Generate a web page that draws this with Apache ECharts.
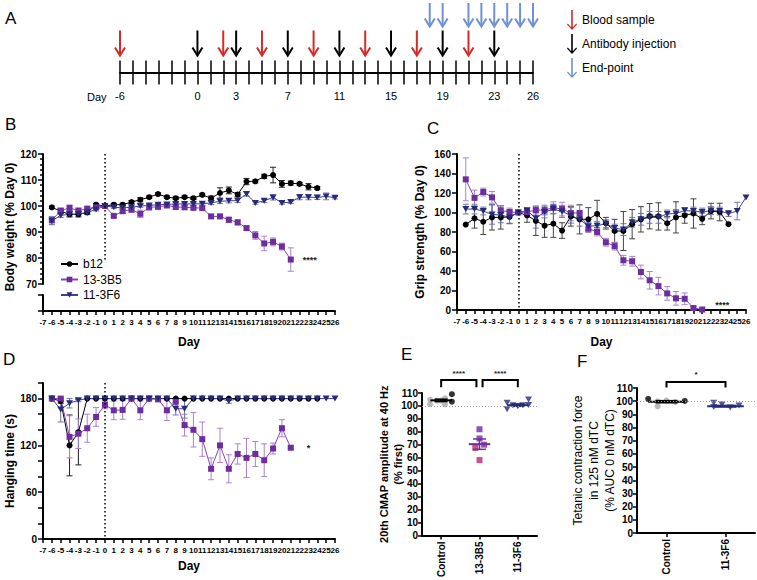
<!DOCTYPE html>
<html><head><meta charset="utf-8">
<script src="https://cdn.jsdelivr.net/npm/echarts@6/dist/echarts.min.js"></script>
<style>html,body{margin:0;padding:0;background:#fff}#c{width:757px;height:580px}</style>
</head><body><div id="c"></div>
<script>
// ---------------- DATA ----------------
const timelineTickLabels = [-6, 0, 3, 7, 11, 15, 19, 23, 26];
const bloodDays = [-6, 2, 5, 9, 13, 17, 21];
const injectionDays = [0, 3, 7, 11, 15, 19, 23];
const endpointDays = [18, 19, 21, 22, 23, 24, 25, 26];

const days = [-6,-5,-4,-3,-2,-1,0,1,2,3,4,5,6,7,8,9,10,11,12,13,14,15,16,17,18,19,20,21,22,23,24,25,26];
const groups = ['b12', '13-3B5', '11-3F6'];

// B: body weight (% day 0)
const weightB12 = [99.5,98.0,96.8,96.8,97.5,100.5,100, 100.5,100.5,101.5,102.4,103.4,104.6,103.4, 103.0,103.4,103.0,104.3,103.0,105.0,106.0, 104.4,109.4,109.5,111.4,111.9,108.5,108.8, 108.5,107.4,106.9,null,null];
const weightB12Err = [0.5,1,1,1,0.8,0.5,0, 0.5,0.5,0.6,0.8,0.5,0.5,0.5, 0.5,0.5,0.5,0.6,0.8,2,1.3, 0.8,1.2,0.6,0.8,3,1.3,0.8, 0.6,1.2,0.6,null,null];
const weight3B5 = [94.5,98.2,99.3,98.2,99.0,99.5,100, 96.2,98.0,98.6,97.0,99.5,99.7,100.2, 99.6,99.5,99.3,99.2,96.0,96.0,94.7, 93.7,91.5,88.7,85.6,86.2,84.4,79.4, null,null,null,null,null];
const weight3B5Err = [1.5,1,1,1,0.8,0.8,0, 0.6,0.8,1,1.4,1,1,0.8, 0.8,0.8,0.8,0.8,0.8,0.8,1, 1,0.8,1.5,2.8,1.5,1.3,4.5, null,null,null,null,null];
const weight3F6 = [94.3,96.4,96.8,96.9,97.5,98.7,100, 99.5,99.3,99.5,100,100.2,100.5,100.6, 100.8,100.8,100.8,100.9,101.2,101.8,102.0, 102.1,104.6,101.2,102.0,103.3,101.2,101.5, 103.4,103.4,103.3,103.7,103.2];
const weight3F6Err = [1.5,0.8,0.8,0.8,0.6,0.6,0, 0.5,0.5,0.5,0.5,0.5,0.5,0.5, 0.5,0.5,0.5,0.5,0.6,0.8,0.8, 0.8,0.8,0.5,0.6,1,0.5,0.5, 1,1,0.8,1.3,0.5];

// C: grip strength (% day 0)
const gripB12 = [87.6,94,90.5,95,95,95.5,100, 97,91.5,86.5,88.5,81.5,96,93, 93,98.5,89,81,81,88,93, 96.2,96,89,95,97,99,93.5, 101.5,100.5,88,null,null];
const gripB12Err = [0,10,13,13,12,7,0, 7,15,12,14,8,10,15, 12,14,6,12,20,15,13, 13,14,7,16,8,15,6, 8,9,0,null,null];
const grip3B5 = [134,115,121,115.5,102,100.5,100, 100.5,102.5,102.5,105,103.5,99.5,99.5, 83.5,80,69.5,65.5,51,50,39, 30.5,24.5,17,12,11.5,2,0.5, null,null,null,null,null];
const grip3B5Err = [22,8,4,6,5,4,0, 3,4,5,6,7,8,8, 4,4,4,4,5,5,7, 9,9,7,7,6,1.5,0, null,null,null,null,null];
const grip3F6 = [103.5,103.5,101.5,98,97.5,95,100, 102,94,100.5,103.5,101,97,93, 86,86.5,88.5,84,82.5,90,93, 95,95,98.5,99,102,101.5,100.5, 102,101.5,99,101.5,115.5];
const grip3F6Err = [5,5,4,10,8,6,0, 3,10,6,5,6,8,7, 4,4,4,4,6,5,6, 6,6,4,4,3,4,4, 4,4,3,9,0];

// D: hanging time (s)
const hangB12 = [180,177,120,137,180,180,180, 180,180,180,180,180,180,180, 180,180,180,180,180,180,180, 180,180,180,180,180,180,180, 180,180,180,null,null];
const hangB12Err = [0,3,39,42,0,0,0, 0,0,0,0,0,0,0, 0,0,0,0,0,0,0, 0,0,0,0,0,0,0, 0,0,0,null,null];
const hang3B5 = [180,180,131,135,142,156.5,172, 165,165.5,180,165,180,179,165, 176,146,140,128,90,120,90, 109,104,109,101,116,142,117, null,null,null,null,null];
const hang3B5Err = [0,0,27,19,18,12,5, 12,12,0,12,0,0,13, 0,14,22,22,14,22,18, 13,25,16,21,7,11,2, null,null,null,null,null];
const hang3F6 = [180,166,174,178,180,180,180, 180,180,180,180,180,180,180, 167,167,180,180,180,180,177, 180,180,180,180,180,180,180, 180,180,180,180,180];
const hang3F6Err = [0,16,6,2,0,0,0, 0,0,0,0,0,0,0, 8,12,0,0,0,0,3, 0,0,0,0,0,0,0, 0,0,0,0,0];

// E: 20th CMAP amplitude at 40 Hz (% first)
const eCategories = ['Control', '13-3B5', '11-3F6'];
const eControlGray = [101.3, 104.9, 104.1, 104.1, 101.3, 105.9];
const eControlGrayJitter = [-0.29, -0.29, -0.11, 0, 0.1, 0.1];
const eControlBlack = [109.1, 103.3];
const eControlBlackJitter = [0.28, 0.28];
const e3B5Purple = [82, 74.9, 70.1];
const e3B5PurpleJitter = [0, 0, 0.12];
const e3B5Magenta = [67.6, 58.2];
const e3B5MagentaJitter = [-0.11, 0];
const e3F6 = [102.5, 97.5, 100.5, 99.8, 100.5, 105.0, 100.8];
const e3F6Jitter = [-0.28, -0.28, -0.13, 0, 0.13, 0.28, 0.28];
const eMean = [104.3, 70.5, 100.6];
const eSem = [0.9, 4.0, 0.9];

// F: tetanic contraction force (% AUC 0 nM dTC)
const fCategories = ['Control', '11-3F6'];
const fControlBlack = [101.7, 100.2];
const fControlBlackJitter = [-0.31, 0.31];
const fControlGray = [96.1, 99.9, 100.4, 99.4];
const fControlGrayJitter = [-0.15, -0.15, 0, 0.15];
const f3F6 = [98.8, 95.5, 97.5, 95.3, 96.8];
const f3F6Jitter = [-0.2, -0.2, -0.06, 0.08, 0.23];
const fMean = [99.6, 96.2];
const fSem = [0.8, 0.6];

// ---------------- STYLE ----------------
const FF = "'Liberation Sans', Arial, sans-serif";
const BLACK = '#000000';
const PURPLE = '#6E2C9E', PURPLE_LINE = '#8048B5', PURPLE_ERR = '#A884CA';
const NAVY = '#272A78', NAVY_LINE = '#3D4196', NAVY_ERR = '#7174AE';
const MAGENTA = '#C2246B', GRAY = '#A9A9A9';
const RED = '#D62A27', BLUE = '#6E92D2';
const TRI_DOWN = 'path://M0,0L10,0L5,9Z';
const ARROW_ICON = 'path://M4.2,0L5.8,0L5.8,17.2L9.2,13.6L10,14.5L5,20L0,14.5L0.8,13.6L4.2,17.2Z';

const axLine = () => ({show: true, onZero: false, lineStyle: {color: BLACK, width: 2}});
const axTick = (len) => ({show: true, length: len, lineStyle: {color: BLACK, width: 1.5}});
const boldLbl = (size, extra) => Object.assign({color: BLACK, fontFamily: FF, fontWeight: 'bold', fontSize: size}, extra || {});
const noSplit = {show: false};

function dayAxis(gi, showName, nameGap) {
  return {gridIndex: gi, type: 'value', min: -7, max: 26, interval: 1, position: 'bottom',
    axisLine: axLine(), axisTick: axTick(4), splitLine: noSplit,
    axisLabel: boldLbl(8, {margin: 7, showMinLabel: true, showMaxLabel: true}),
    name: showName ? 'Day' : '', nameLocation: 'middle', nameGap: nameGap,
    nameTextStyle: boldLbl(12)};
}

function lineSeries(name, vals, color, lineColor, symbol, size, xi, yi, stars, starOpts) {
  const data = [];
  days.forEach((d, i) => { if (vals[i] != null) data.push([d, vals[i]]); });
  if (stars) {
    const last = data[data.length - 1];
    data[data.length - 1] = {value: last, label: Object.assign({show: true, formatter: stars, position: 'right',
      color: '#222', fontFamily: FF, fontSize: 9, fontWeight: 'bold'}, starOpts || {})};
  }
  return {type: 'line', name, xAxisIndex: xi, yAxisIndex: yi, data, symbol, symbolSize: size,
    showSymbol: true, itemStyle: {color}, lineStyle: {color: lineColor, width: 1}, z: 3,
    emphasis: {disabled: true}, animation: false};
}

function errBars(vals, errs, color, xi, yi) {
  const data = [];
  days.forEach((d, i) => { if (vals[i] != null && errs[i]) data.push([d, vals[i] - errs[i], vals[i] + errs[i]]); });
  return {type: 'custom', xAxisIndex: xi, yAxisIndex: yi, data, z: 1, silent: true, animation: false,
    encode: {x: 0, y: [1, 2]},
    renderItem: (p, api) => {
      const x = api.value(0);
      const a = api.coord([x, api.value(1)]), b = api.coord([x, api.value(2)]);
      const w = 3;
      return {type: 'group', children: [
        {type: 'line', shape: {x1: a[0], y1: a[1], x2: b[0], y2: b[1]}, style: {stroke: color, lineWidth: 1}},
        {type: 'line', shape: {x1: a[0] - w, y1: a[1], x2: a[0] + w, y2: a[1]}, style: {stroke: color, lineWidth: 1}},
        {type: 'line', shape: {x1: b[0] - w, y1: b[1], x2: b[0] + w, y2: b[1]}, style: {stroke: color, lineWidth: 1}}]};
    }};
}

function vDotted(top, bottom) {
  return {silent: true, symbol: ['none', 'none'], animation: false, label: {show: false},
    lineStyle: {color: BLACK, width: 1.5, type: [1.5, 2.5]},
    data: [[{coord: [0, top]}, {coord: [0, bottom]}]]};
}

function arrowSeries(name, list, color, topV, botV) {
  return {type: 'custom', name, xAxisIndex: 0, yAxisIndex: 0, itemStyle: {color}, animation: false, silent: true,
    data: list.map(d => [d, topV, botV]), encode: {x: 0, y: [1, 2]},
    renderItem: (p, api) => {
      const t = api.coord([api.value(0), api.value(1)]);
      const b = api.coord([api.value(0), api.value(2)]);
      return {type: 'group', children: [
        {type: 'line', shape: {x1: t[0], y1: t[1], x2: b[0], y2: b[1] - 1}, style: {stroke: color, lineWidth: 2}},
        {type: 'polyline', shape: {points: [[b[0] - 5, b[1] - 8], [b[0], b[1]], [b[0] + 5, b[1] - 8]]},
          style: {stroke: color, lineWidth: 2, fill: 'none'}}]};
    }};
}

function dots(vals, jitter, center, color, symbol, size, xi, yi, extra) {
  return Object.assign({type: 'scatter', xAxisIndex: xi, yAxisIndex: yi, symbol, symbolSize: size,
    itemStyle: {color}, data: vals.map((v, i) => [center + jitter[i], v]), z: 3, silent: true, animation: false}, extra || {});
}

function meanSem(means, sems, colors, xi, yi, half, refLine) {
  const s = {type: 'custom', xAxisIndex: xi, yAxisIndex: yi, z: 4, silent: true, animation: false,
    data: means.map((m, i) => [i + 0.5, m, sems[i], i]), encode: {x: 0, y: 1},
    renderItem: (p, api) => {
      const cx = api.value(0), m = api.value(1), se = api.value(2), col = colors[api.value(3)];
      const l = api.coord([cx - half, m]), r = api.coord([cx + half, m]);
      const lo = api.coord([cx, m - se]), hi = api.coord([cx, m + se]);
      const cw = (r[0] - l[0]) * 0.3;
      return {type: 'group', children: [
        {type: 'line', shape: {x1: l[0], y1: l[1], x2: r[0], y2: r[1]}, style: {stroke: col, lineWidth: 2}},
        {type: 'line', shape: {x1: lo[0], y1: lo[1], x2: hi[0], y2: hi[1]}, style: {stroke: col, lineWidth: 1.5}},
        {type: 'line', shape: {x1: lo[0] - cw, y1: lo[1], x2: lo[0] + cw, y2: lo[1]}, style: {stroke: col, lineWidth: 1.5}},
        {type: 'line', shape: {x1: hi[0] - cw, y1: hi[1], x2: hi[0] + cw, y2: hi[1]}, style: {stroke: col, lineWidth: 1.5}}]};
    }};
  if (refLine) s.markLine = {silent: true, symbol: ['none', 'none'], animation: false, label: {show: false},
    lineStyle: {color: '#999', width: 1, type: [1, 2]}, data: [{yAxis: 100}]};
  return s;
}

function brackets(list, xi, yi) {
  return {type: 'custom', xAxisIndex: xi, yAxisIndex: yi, z: 5, silent: true, animation: false, clip: false,
    data: list.map(b => [b[0], b[1], b[2], b[3]]), encode: {x: [0, 1], y: 2},
    renderItem: (p, api) => {
      const txt = list[p.dataIndex][4];
      const a = api.coord([api.value(0), api.value(3)]), b = api.coord([api.value(0), api.value(2)]);
      const c = api.coord([api.value(1), api.value(2)]), d = api.coord([api.value(1), api.value(3)]);
      return {type: 'group', children: [
        {type: 'polyline', shape: {points: [a, b, c, d]}, style: {stroke: BLACK, lineWidth: 2, fill: 'none'}},
        {type: 'text', x: (b[0] + c[0]) / 2, y: b[1] - 3,
          style: {text: txt, fill: '#222', font: 'bold 8px ' + FF, textAlign: 'center', textVerticalAlign: 'bottom'}}]};
    }};
}

// ---------------- OPTION ----------------
const chart = echarts.init(document.getElementById('c'), null, {renderer: 'svg', width: 757, height: 580});

const option = {
  animation: false,
  backgroundColor: '#ffffff',
  textStyle: {fontFamily: FF},
  grid: [
    {left: 120, top: 0, width: 413, height: 72.5},   // A
    {left: 43, top: 154, width: 292, height: 130},   // B main
    {left: 43, top: 295, width: 292, height: 16},    // B break
    {left: 457, top: 154, width: 289, height: 156},  // C
    {left: 43, top: 383, width: 292, height: 156},   // D
    {left: 422, top: 393, width: 115, height: 143},  // E
    {left: 637, top: 388, width: 118, height: 145}   // F
  ],
  xAxis: [
    {gridIndex: 0, type: 'value', min: -6, max: 26, interval: 1, position: 'bottom',
      axisLine: axLine(), axisTick: axTick(12), splitLine: noSplit,
      axisLabel: {color: BLACK, fontFamily: FF, fontSize: 11, margin: 18, showMinLabel: true, showMaxLabel: true,
        formatter: v => timelineTickLabels.indexOf(v) >= 0 ? String(v) : ''}},
    {gridIndex: 0, type: 'value', min: -6, max: 26, interval: 1, position: 'bottom',
      axisLine: {show: false, onZero: false}, axisTick: {show: true, inside: true, length: 12, lineStyle: {color: BLACK, width: 1.5}},
      axisLabel: {show: false}, splitLine: noSplit},
    {gridIndex: 1, type: 'value', min: -7, max: 26, show: false},
    dayAxis(2, true, 25),
    dayAxis(3, true, 26),
    dayAxis(4, true, 21),
    {gridIndex: 5, type: 'category', data: eCategories, position: 'bottom',
      axisLine: axLine(), axisTick: {show: true, alignWithLabel: true, length: 4, lineStyle: {color: BLACK, width: 1.5}},
      axisLabel: boldLbl(10, {rotate: 90, margin: 6, interval: 0})},
    {gridIndex: 5, type: 'value', min: 0, max: 3, show: false},
    {gridIndex: 6, type: 'category', data: fCategories, position: 'bottom',
      axisLine: axLine(), axisTick: {show: true, alignWithLabel: true, length: 4, lineStyle: {color: BLACK, width: 1.5}},
      axisLabel: boldLbl(10, {rotate: 90, margin: 6, interval: 0})},
    {gridIndex: 6, type: 'value', min: 0, max: 2, show: false}
  ],
  yAxis: [
    {gridIndex: 0, type: 'value', min: 0, max: 72.5, show: false},
    {gridIndex: 1, type: 'value', min: 70, max: 120, interval: 10,
      axisLine: axLine(), axisTick: axTick(5), splitLine: noSplit,
      minorTick: {show: true, splitNumber: 5, length: 3, lineStyle: {color: BLACK, width: 1.5}},
      axisLabel: boldLbl(10, {margin: 6}),
      name: 'Body weight (% Day 0)', nameLocation: 'middle', nameGap: 27, nameTextStyle: boldLbl(12, {padding: [0, 16, 0, 0]})},
    {gridIndex: 2, type: 'value', min: 0, max: 1, interval: 1,
      axisLine: axLine(), axisTick: axTick(5), splitLine: noSplit, axisLabel: {show: false}},
    {gridIndex: 3, type: 'value', min: 0, max: 160, interval: 20,
      axisLine: axLine(), axisTick: axTick(5), splitLine: noSplit, axisLabel: boldLbl(10, {margin: 6}),
      name: 'Grip strength (% Day 0)', nameLocation: 'middle', nameGap: 31, nameTextStyle: boldLbl(12)},
    {gridIndex: 4, type: 'value', min: 0, max: 200, interval: 20,
      axisLine: axLine(), axisTick: axTick(5), splitLine: noSplit,
      axisLabel: boldLbl(10, {margin: 6, formatter: v => (v % 60 === 0 ? String(v) : '')}),
      name: 'Hanging time (s)', nameLocation: 'middle', nameGap: 27, nameTextStyle: boldLbl(12)},
    {gridIndex: 5, type: 'value', min: 0, max: 110, interval: 10,
      axisLine: axLine(), axisTick: axTick(4), splitLine: noSplit, axisLabel: boldLbl(10, {margin: 4}),
      name: '20th CMAP amplitude at 40 Hz\n(% first)', nameLocation: 'middle', nameGap: 17, nameMoveOverlap: false,
      nameTextStyle: boldLbl(11, {lineHeight: 14})},
    {gridIndex: 6, type: 'value', min: 0, max: 110, interval: 10,
      axisLine: axLine(), axisTick: axTick(4), splitLine: noSplit, axisLabel: boldLbl(10, {margin: 4}),
      name: 'Tetanic contraction force\nin 125 nM dTC\n(% AUC 0 nM dTC)', nameLocation: 'middle', nameGap: 19, nameMoveOverlap: false,
      nameTextStyle: {color: BLACK, fontFamily: FF, fontSize: 12, lineHeight: 16}}
  ],
  legend: [
    {data: ['Blood sample', 'Antibody injection', 'End-point'], orient: 'vertical', left: 562, top: 5,
      itemWidth: 10, itemHeight: 22, itemGap: 4, icon: ARROW_ICON, selectedMode: false,
      textStyle: {color: BLACK, fontFamily: FF, fontSize: 12}},
    {data: groups, orient: 'vertical', left: 55, top: 253, itemWidth: 17, itemHeight: 7, itemGap: 3.5,
      selectedMode: false, textStyle: {color: BLACK, fontFamily: FF, fontSize: 12}}
  ],
  graphic: [
    {type: 'text', left: 5, top: 10, style: {text: 'A', font: '17px ' + FF, fill: BLACK}},
    {type: 'text', left: 87, top: 91, style: {text: 'Day', font: '11px ' + FF, fill: BLACK}},
    {type: 'text', left: 5, top: 116, style: {text: 'B', font: '17px ' + FF, fill: BLACK}},
    {type: 'text', left: 427, top: 120, style: {text: 'C', font: '17px ' + FF, fill: BLACK}},
    {type: 'text', left: 3, top: 351, style: {text: 'D', font: '17px ' + FF, fill: BLACK}},
    {type: 'text', left: 401, top: 346, style: {text: 'E', font: '17px ' + FF, fill: BLACK}},
    {type: 'text', left: 577, top: 353, style: {text: 'F', font: '17px ' + FF, fill: BLACK}}
  ],
  series: [
    // A timeline arrows
    arrowSeries('Blood sample', bloodDays, RED, 42, 17),
    arrowSeries('Antibody injection', injectionDays, BLACK, 42, 17),
    arrowSeries('End-point', endpointDays, BLUE, 69.5, 46),
    // B
    errBars(weightB12, weightB12Err, '#222', 2, 1),
    errBars(weight3B5, weight3B5Err, PURPLE_ERR, 2, 1),
    errBars(weight3F6, weight3F6Err, NAVY_ERR, 2, 1),
    Object.assign(lineSeries('b12', weightB12, BLACK, BLACK, 'circle', 6, 2, 1), {markLine: vDotted(120, 79)}),
    lineSeries('13-3B5', weight3B5, PURPLE, PURPLE_LINE, 'rect', 6, 2, 1, '****', {distance: 9}),
    lineSeries('11-3F6', weight3F6, NAVY, NAVY_LINE, TRI_DOWN, [7, 6], 2, 1),
    // C
    errBars(gripB12, gripB12Err, '#444', 4, 3),
    errBars(grip3B5, grip3B5Err, PURPLE_ERR, 4, 3),
    errBars(grip3F6, grip3F6Err, NAVY_ERR, 4, 3),
    Object.assign(lineSeries('b12', gripB12, BLACK, BLACK, 'circle', 6, 4, 3), {markLine: vDotted(160, 0)}),
    lineSeries('13-3B5', grip3B5, PURPLE, PURPLE_LINE, 'rect', 6, 4, 3, '****', {distance: 10, offset: [0, -5]}),
    lineSeries('11-3F6', grip3F6, NAVY, NAVY_LINE, TRI_DOWN, [7, 6], 4, 3),
    // D
    errBars(hangB12, hangB12Err, '#222', 5, 4),
    errBars(hang3B5, hang3B5Err, PURPLE_ERR, 5, 4),
    errBars(hang3F6, hang3F6Err, NAVY_ERR, 5, 4),
    Object.assign(lineSeries('b12', hangB12, BLACK, BLACK, 'circle', 6, 5, 4), {markLine: vDotted(200, 0)}),
    lineSeries('13-3B5', hang3B5, PURPLE, PURPLE_LINE, 'rect', 6, 5, 4, '*', {distance: 13}),
    lineSeries('11-3F6', hang3F6, NAVY, NAVY_LINE, TRI_DOWN, [7, 6], 5, 4),
    // E
    meanSem(eMean, eSem, [BLACK, PURPLE, NAVY], 7, 5, 0.28, true),
    dots(eControlGray, eControlGrayJitter, 0.5, GRAY, 'circle', 6, 7, 5),
    dots(eControlBlack, eControlBlackJitter, 0.5, BLACK, 'circle', 6, 7, 5),
    dots(e3B5Purple, e3B5PurpleJitter, 1.5, PURPLE, 'rect', 6, 7, 5),
    dots(e3B5Magenta, e3B5MagentaJitter, 1.5, MAGENTA, 'rect', 6, 7, 5),
    dots(e3F6, e3F6Jitter, 2.5, NAVY, TRI_DOWN, [7, 6], 7, 5),
    brackets([[0.5, 1.42, 120, 114.5, '****'], [1.58, 2.5, 120, 114.5, '****']], 7, 5),
    // F
    meanSem(fMean, fSem, [BLACK, NAVY], 9, 6, 0.31, true),
    dots(fControlGray, fControlGrayJitter, 0.5, GRAY, 'circle', 6, 9, 6),
    dots(fControlBlack, fControlBlackJitter, 0.5, BLACK, 'circle', 6, 9, 6),
    dots(f3F6, f3F6Jitter, 1.5, NAVY, TRI_DOWN, [7, 6], 9, 6),
    brackets([[0.5, 1.5, 114.6, 110.3, '*']], 9, 6)
  ]
};
chart.setOption(option);
</script>
</body></html>
